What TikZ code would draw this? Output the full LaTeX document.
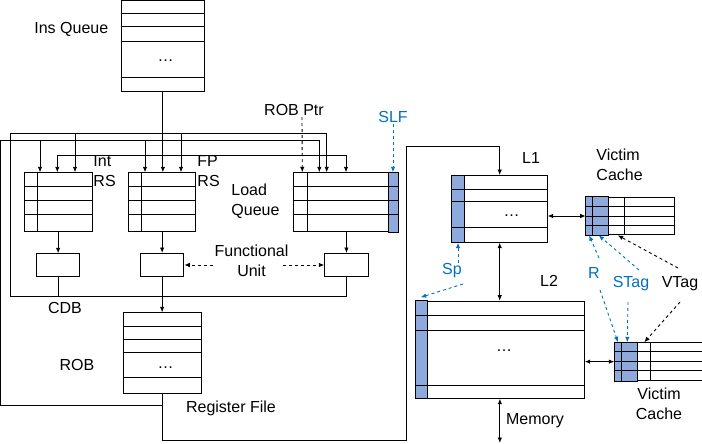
\documentclass[tikz,border=0pt]{standalone}
\usepackage{fontspec}
\setmainfont{Liberation Sans}
\usetikzlibrary{calc,arrows.meta,positioning}
\definecolor{slotblue}{RGB}{142,169,219}
\definecolor{textblue}{RGB}{0,112,192}

\begin{document}
\begin{tikzpicture}[x=1pt, y=-1pt, >={Latex[length=5.5pt,width=4.5pt]}, line width=0.9pt, font=\fontsize{16}{20}\selectfont]
    % Define styles for tables, units, labels and hint arrows
    \tikzstyle{tbl} = [draw, fill=white, rectangle, anchor=north west, inner sep=0pt, line width=1pt]
    \tikzstyle{unit} = [tbl, minimum width=43.3pt, minimum height=23pt]
    \tikzstyle{lbl} = [inner sep=1pt, align=left]
    \tikzstyle{bluelbl} = [lbl, text=textblue]
    \tikzstyle{slot} = [draw, fill=slotblue, line width=1pt]
    \tikzstyle{hint} = [->, dashed]
    \tikzstyle{bluehint} = [hint, draw=textblue]

    \useasboundingbox (0,0) rectangle (702,444);

    % Ins Queue
    \node [tbl, minimum width=83.3pt, minimum height=90.3pt] (insq) at (120.7,0.4) {};
    \draw ($(insq.north west)+(0,12.9)$) -- ($(insq.north east)+(0,12.9)$)
          ($(insq.north west)+(0,25.9)$) -- ($(insq.north east)+(0,25.9)$)
          ($(insq.north west)+(0,40.9)$) -- ($(insq.north east)+(0,40.9)$)
          ($(insq.north west)+(0,76.9)$) -- ($(insq.north east)+(0,76.9)$);
    \node at ($(insq.north west)+(44.8,60)$) {\dots};
    \node [lbl] (insqlab) at (71.3,29.5) {Ins Queue};

    % Reservation stations and load queue
    \node [tbl, minimum width=67.4pt, minimum height=58.7pt] (intrs) at (24.3,172.3) {};
    \node [tbl, minimum width=66.7pt, minimum height=58.7pt] (fprs) at (128.3,172.3) {};
    \node [tbl, minimum width=104.4pt, minimum height=58.7pt] (lq) at (293.3,172.3) {};
    \draw [slot] ($(lq.north east)+(-10,0)$) rectangle (lq.south east);
    \draw ($(intrs.north west)+(13,0)$) -- ($(intrs.south west)+(13,0)$)
          ($(intrs.north west)+(0,14.4)$) -- ($(intrs.north east)+(0,14.4)$)
          ($(intrs.north west)+(0,28)$) -- ($(intrs.north east)+(0,28)$)
          ($(intrs.north west)+(0,42)$) -- ($(intrs.north east)+(0,42)$);
    \draw ($(fprs.north west)+(13,0)$) -- ($(fprs.south west)+(13,0)$)
          ($(fprs.north west)+(0,14.4)$) -- ($(fprs.north east)+(0,14.4)$)
          ($(fprs.north west)+(0,28)$) -- ($(fprs.north east)+(0,28)$)
          ($(fprs.north west)+(0,42)$) -- ($(fprs.north east)+(0,42)$);
    \draw ($(lq.north west)+(14,0)$) -- ($(lq.south west)+(14,0)$)
          ($(lq.north west)+(0,14.4)$) -- ($(lq.north east)+(0,14.4)$)
          ($(lq.north west)+(0,28)$) -- ($(lq.north east)+(0,28)$)
          ($(lq.north west)+(0,42)$) -- ($(lq.north east)+(0,42)$);
    \node [lbl, anchor=west] (intlab) at (92,171.5) {Int\\RS};
    \node [lbl, anchor=west] (fplab) at (196,171.5) {FP\\RS};
    \node [lbl, anchor=west] (lqlab) at (230,201.5) {Load\\Queue};
    \node [lbl] (robptr) at (294,110) {ROB Ptr};
    \node [bluelbl] (slf) at (393,117) {SLF};

    % Input points on top of the stations
    \coordinate (inta) at ($(intrs.north west)+(15.7,0)$);
    \coordinate (intb) at ($(intrs.north west)+(33,0)$);
    \coordinate (intc) at ($(intrs.north west)+(50.7,0)$);
    \coordinate (fpa) at ($(fprs.north west)+(16.7,0)$);
    \coordinate (fpc) at ($(fprs.north west)+(52.7,0)$);
    \coordinate (lqa) at ($(lq.north west)+(9,0)$);
    \coordinate (lqb) at ($(lq.north west)+(26,0)$);
    \coordinate (lqc) at ($(lq.north west)+(33.4,0)$);
    \coordinate (lqd) at ($(lq.north west)+(52.7,0)$);

    % Functional units
    \node [unit] (intfu) at (36,253.3) {};
    \node [unit] (fpfu) at (140,253) {};
    \node [unit] (lqfu) at (324.3,253) {};
    \node [lbl, align=center] (fulab) at (251.5,261) {Functional\\Unit};

    % ROB
    \node [tbl, minimum width=78.3pt, minimum height=81pt] (rob) at (122.7,312.3) {};
    \draw ($(rob.north west)+(0,14.4)$) -- ($(rob.north east)+(0,14.4)$)
          ($(rob.north west)+(0,27)$) -- ($(rob.north east)+(0,27)$)
          ($(rob.north west)+(0,40.4)$) -- ($(rob.north east)+(0,40.4)$)
          ($(rob.north west)+(0,65)$) -- ($(rob.north east)+(0,65)$);
    \node at ($(rob.north west)+(42.8,55.5)$) {\dots};
    \node [lbl] (roblab) at (77,365) {ROB};
    \node [lbl] (cdb) at (65,308) {CDB};
    \node [lbl] (reglab) at (231,408.5) {Register File};

    % L1, L2 and victim caches
    \node [tbl, minimum width=95pt, minimum height=66.7pt] (l1) at (451.7,175) {};
    \draw [slot] (l1.north west) rectangle ($(l1.south west)+(12.6,0)$);
    \draw ($(l1.north west)+(0,14)$) -- ($(l1.north east)+(0,14)$)
          ($(l1.north west)+(0,26.7)$) -- ($(l1.north east)+(0,26.7)$)
          ($(l1.north west)+(0,52.7)$) -- ($(l1.north east)+(0,52.7)$);
    \node at ($(l1.north west)+(60,41)$) {\dots};
    \node [lbl] (l1lab) at (531,158) {L1};

    \node [tbl, minimum width=168.7pt, minimum height=97pt] (l2) at (415,300.7) {};
    \draw [slot] (l2.north west) rectangle ($(l2.south west)+(12.3,0)$);
    \draw ($(l2.north west)+(0,14.3)$) -- ($(l2.north east)+(0,14.3)$)
          ($(l2.north west)+(0,29.3)$) -- ($(l2.north east)+(0,29.3)$)
          ($(l2.north west)+(0,84.3)$) -- ($(l2.north east)+(0,84.3)$);
    \node at ($(l2.north west)+(89,49.5)$) {\dots};
    \node [lbl] (l2lab) at (549,281) {L2};

    \node [tbl, minimum width=88.3pt, minimum height=37.6pt] (vc1) at (585.7,196.7) {};
    \draw [slot] (vc1.north west) rectangle ($(vc1.south west)+(22.6,0)$);
    \draw ($(vc1.north west)+(7,0)$) -- ($(vc1.south west)+(7,0)$)
          ($(vc1.north west)+(38.3,0)$) -- ($(vc1.south west)+(38.3,0)$)
          ($(vc1.north west)+(0,10)$) -- ($(vc1.north east)+(0,10)$)
          ($(vc1.north west)+(0,19.3)$) -- ($(vc1.north east)+(0,19.3)$)
          ($(vc1.north west)+(0,29)$) -- ($(vc1.north east)+(0,29)$);
    \node [lbl, anchor=west] (vc1lab) at (595,165) {Victim\\Cache};

    \node [tbl, minimum width=87.2pt, minimum height=37.7pt] (vc2) at (614.3,342.3) {};
    \draw [slot] (vc2.north west) rectangle ($(vc2.south west)+(23,0)$);
    \draw ($(vc2.north west)+(7.4,0)$) -- ($(vc2.south west)+(7.4,0)$)
          ($(vc2.north west)+(36.4,0)$) -- ($(vc2.south west)+(36.4,0)$)
          ($(vc2.north west)+(0,9.4)$) -- ($(vc2.north east)+(0,9.4)$)
          ($(vc2.north west)+(0,18.7)$) -- ($(vc2.north east)+(0,18.7)$)
          ($(vc2.north west)+(0,27.7)$) -- ($(vc2.north east)+(0,27.7)$);
    \node [lbl, align=center] (vc2lab) at (659,404) {Victim\\Cache};
    \node [lbl] (memlab) at (535,421) {Memory};

    % Field labels
    \node [bluelbl] (sp) at (452,271) {Sp};
    \node [bluelbl] (rlab) at (594,273) {R};
    \node [bluelbl] (stag) at (631,284) {STag};
    \node [lbl] (vtag) at (680,284) {VTag};

    % Corners of the long wires
    \coordinate (cdbl) at (10,296);
    \coordinate (cdbt) at (10,133.3);
    \coordinate (regl) at (0.8,405);
    \coordinate (regt) at (0.8,140.7);
    \coordinate (regb) at (406.7,440);
    \coordinate (regr) at (406.7,146);
    \coordinate (insy) at (0,155);
    \coordinate (insj) at (insq.south |- insy);
    \coordinate (memend) at (0,443);

    % Draw edges
    \draw [->] (insq.south) -- (insq.south |- fprs.north);
    \draw [->] (insj) -| (intb);
    \draw [->] (insj) -| (lqd);

    \draw (intfu.south) -- (intfu.south |- cdbl);
    \draw [->] (lqfu.south) |- (cdbl) -- (cdbt) -| (lqc);
    \draw [->] (intc |- cdbt) -- (intc);
    \draw [->] (fpc |- cdbt) -- (fpc);

    \draw [->] (rob.south) |- (regb) -- (regr) -| (l1.north);
    \draw [->] (rob.south |- regl) -- (regl) -- (regt) -| (lqb);
    \draw [->] (inta |- regt) -- (inta);
    \draw [->] (fpa |- regt) -- (fpa);

    \draw [->] (intfu.north |- intrs.south) -- (intfu.north);
    \draw [->] (fpfu.north |- fprs.south) -- (fpfu.north);
    \draw [->] (lqfu.north |- lq.south) -- (lqfu.north);
    \draw [->] (fpfu.south) -- (fpfu.south |- rob.north);

    \draw [hint] ([xshift=8pt]robptr.south) -- (lqa);
    \draw [bluehint] (slf.south) -- (slf.south |- lq.north);
    \draw [hint] (fulab.west |- fpfu.east) -- (fpfu.east);
    \draw [hint] ([xshift=-7pt]fulab.east |- lqfu.west) -- (lqfu.west);

    \draw [<->] (vc1.west -| l1.east) -- (vc1.west);
    \draw [<->] (l1.south) -- (l1.south |- l2.north);
    \draw [<->] (vc2.west -| l2.east) -- (vc2.west);
    \draw [<->] (l2.south) -- (l2.south |- memend);

    % Field pointers
    \draw [bluehint] ($(sp)+(6,-8)$) -- ($(l1.south west)+(6.3,0)$);
    \draw [bluehint] ($(sp)+(11,13)$) -- ($(l2.north west)+(5.7,-3.4)$);
    \draw [bluehint] ($(rlab)+(5,-15)$) -- ($(vc1.south west)+(3.5,0)$);
    \draw [bluehint] ($(rlab)+(6,17)$) -- ($(vc2.north west)+(3.7,0)$);
    \draw [bluehint] ($(stag)+(8,-14)$) -- ($(vc1.south west)+(13,0)$);
    \draw [bluehint] ($(stag)+(-3,18)$) -- ($(vc2.north west)+(13,0)$);
    \draw [hint] ($(vtag)+(-2,-16)$) -- ($(vc1.south west)+(32,0)$);
    \draw [hint] ($(vtag)+(0,18)$) -- ($(vc2.north west)+(30,0)$);
\end{tikzpicture}
\end{document}
